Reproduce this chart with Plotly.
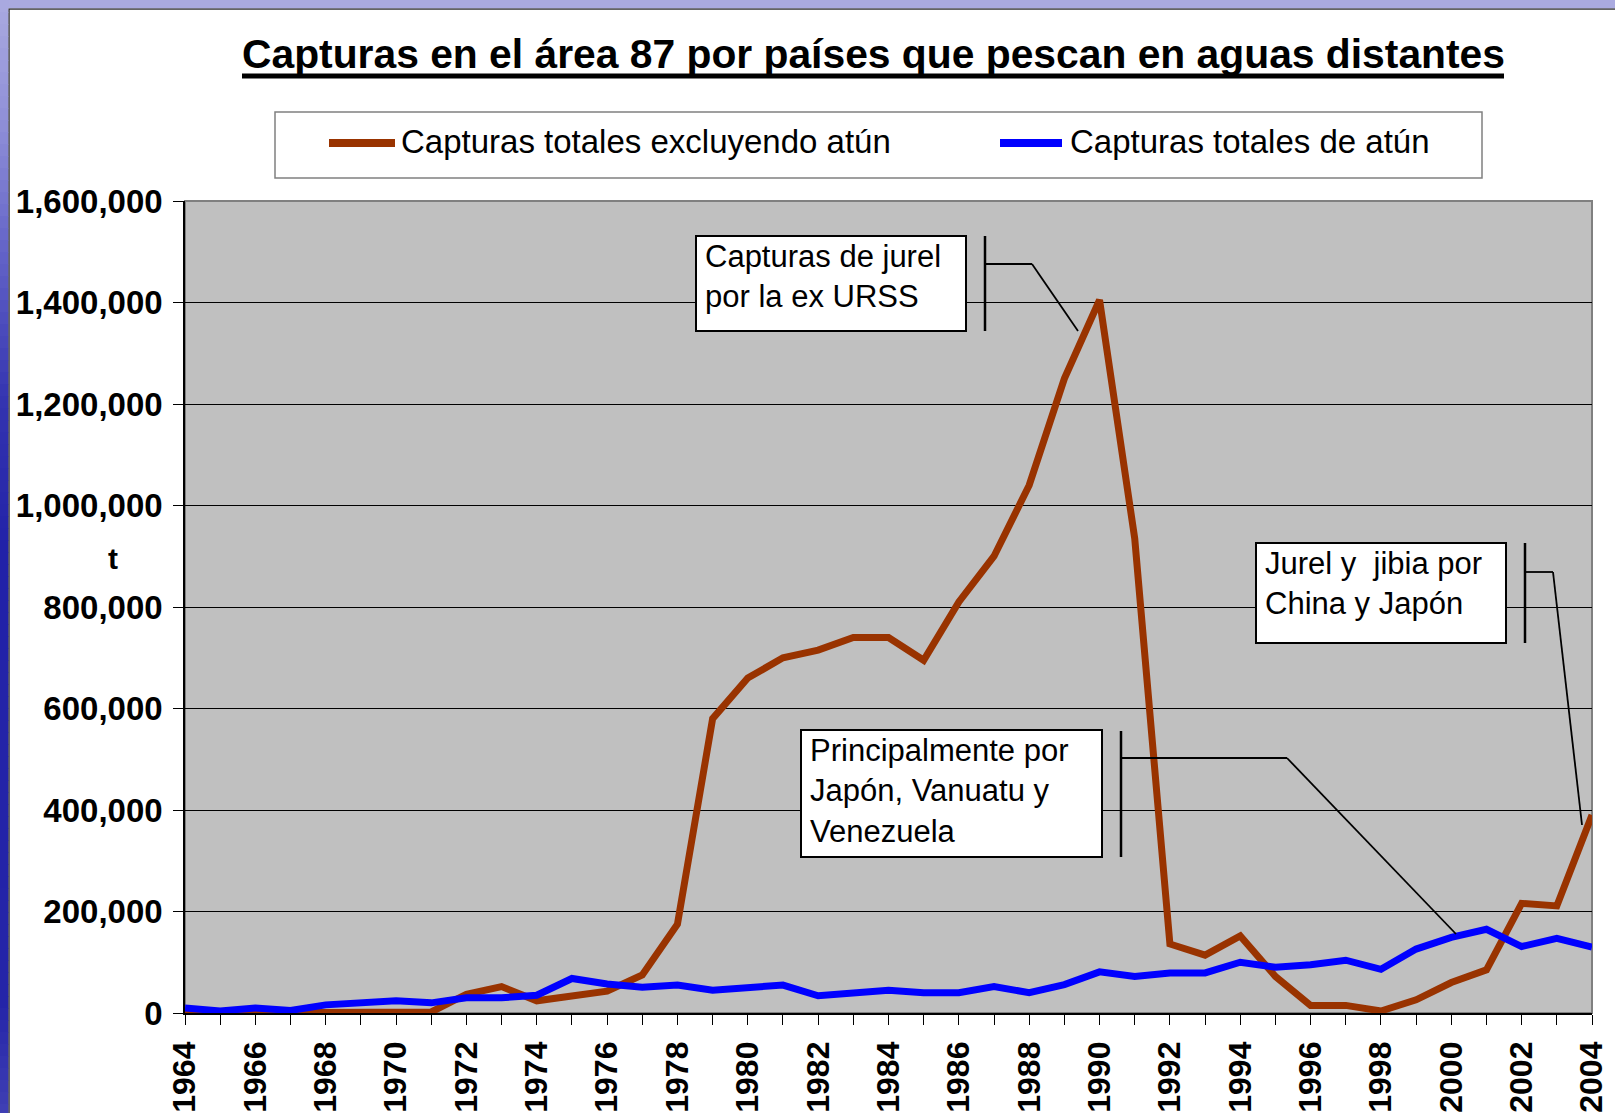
import plotly.graph_objects as go

# ---------------- data ----------------
years = [1964, 1965, 1966, 1967, 1968, 1969, 1970, 1971, 1972, 1973,
         1974, 1975, 1976, 1977, 1978, 1979, 1980, 1981, 1982, 1983,
         1984, 1985, 1986, 1987, 1988, 1989, 1990, 1991, 1992, 1993,
         1994, 1995, 1996, 1997, 1998, 1999, 2000, 2001, 2002, 2003, 2004]

catch_excl_tuna = [0, 0, 0, 0, 2000, 2000, 2000, 2000, 37000, 52000,
                   24000, 32000, 43000, 75000, 175000, 580000, 660000, 700000, 715000, 740000,
                   740000, 695000, 810000, 900000, 1040000, 1250000, 1405000, 935000, 136000, 114000,
                   152000, 72000, 15000, 15000, 4000, 26000, 60000, 85000, 216000, 211000, 390000]

catch_tuna = [10000, 4000, 10000, 5000, 16000, 19000, 24000, 20000, 30000, 30000,
              35000, 68000, 57000, 51000, 55000, 45000, 50000, 55000, 34000, 41000,
              45000, 40000, 40000, 52000, 40000, 56000, 81000, 72000, 79000, 79000,
              100000, 90000, 95000, 104000, 86000, 126000, 149000, 165000, 131000, 147000, 130000]

series_names = ["Capturas totales excluyendo atún", "Capturas totales de atún"]
series_colors = ["#993300", "#0000FF"]

title_text = "Capturas en el área 87 por países que pescan en aguas distantes"
y_title = "t"
y_tick_vals = [0, 200000, 400000, 600000, 800000, 1000000, 1200000, 1400000, 1600000]
x_tick_vals = years[::2]

callout_texts = [
    "Capturas de jurel<br>por la ex URSS",
    "Principalmente por<br>Japón, Vanuatu y<br>Venezuela",
    "Jurel y  jibia por<br>China y Japón",
]

# ---------------- layout helpers ----------------
W, H = 1615, 1113
L, R, T, B = 185, 1592, 201, 1013
FONT = "Arial, 'Liberation Sans', sans-serif"


def px(x):
    return (x - L) / (R - L)


def py(y):
    return (B - y) / (B - T)


def rect(x0, y0, x1, y1, fill=None, line_color=None, line_width=0, layer="above"):
    d = dict(type="rect", xref="paper", yref="paper",
             x0=px(x0), x1=px(x1), y0=py(y1), y1=py(y0), layer=layer,
             line=dict(width=line_width, color=line_color or "rgba(0,0,0,0)"))
    if fill:
        d["fillcolor"] = fill
    return d


def seg(x0, y0, x1, y1, color="#000", width=2, layer="above"):
    return dict(type="line", xref="paper", yref="paper",
                x0=px(x0), x1=px(x1), y0=py(y0), y1=py(y1), layer=layer,
                line=dict(color=color, width=width))


def hex2rgb(h):
    h = h.lstrip("#")
    return tuple(int(h[i:i + 2], 16) for i in (0, 2, 4))


shapes = []

# background frame: white area and blue border
shapes.append(rect(9, 9, W + 5, H + 5, fill="#FFFFFF", line_color="#333333", line_width=1.5, layer="below"))
shapes.append(rect(-5, -5, W + 5, 8.3, fill="#AAAAE0", layer="below"))
# left gradient strip
stops = [(0, "#AAAAE0"), (120, "#9090D8"), (250, "#6464C8"), (400, "#3434B0"),
         (550, "#2222A8"), (1000, "#2424A8"), (1113, "#4040B4")]
step = 12
yy = 0
while yy < H:
    ymid = yy + step / 2
    for (ya, ca), (yb, cb) in zip(stops[:-1], stops[1:]):
        if ya <= ymid <= yb:
            t = (ymid - ya) / (yb - ya)
            a, b = hex2rgb(ca), hex2rgb(cb)
            c = tuple(round(a[i] + (b[i] - a[i]) * t) for i in range(3))
            break
    shapes.append(rect(-5, yy, 8.3, yy + step + 1, fill="rgb(%d,%d,%d)" % c, layer="below"))
    yy += step

# plot area gray background + border (top / right gray)
shapes.append(rect(L, T, R, B, fill="#C0C0C0", layer="below"))
shapes.append(rect(L, T, R, B, line_color="#808080", line_width=2, layer="below"))

# title underline
shapes.append(seg(242, 76, 1504, 76, color="#000", width=5))

# legend box and line samples
shapes.append(rect(275, 112, 1482, 178, fill="#FFFFFF", line_color="#808080", line_width=1.5))
shapes.append(seg(329, 143, 395, 143, color=series_colors[0], width=8))
shapes.append(seg(1000, 143, 1062, 143, color=series_colors[1], width=8))

# callout boxes
boxes = [(696, 236, 966, 331), (801, 730, 1102, 857), (1256, 543, 1506, 643)]
for (x0, y0, x1, y1) in boxes:
    shapes.append(rect(x0, y0, x1, y1, fill="#FFFFFF", line_color="#000000", line_width=2))

# callout leader lines
bars = [(985, 236, 331), (1121, 731, 857), (1525, 543, 643)]
for (xb, y0, y1) in bars:
    shapes.append(seg(xb, y0, xb, y1, width=2.5))
leaders = [
    [(985, 264), (1032, 264), (1078, 331)],
    [(1121, 758), (1287, 758), (1456, 934)],
    [(1525, 572), (1553, 572), (1582, 825)],
]
for pts in leaders:
    for (xa, ya), (xb, yb) in zip(pts[:-1], pts[1:]):
        shapes.append(seg(xa, ya, xb, yb, width=1.8))

annotations = []
# title
annotations.append(dict(text="<b>" + title_text + "</b>", xref="paper", yref="paper",
                        x=px(873), y=py(54), xanchor="center", yanchor="middle", showarrow=False,
                        font=dict(family=FONT, size=40.8, color="#000")))
# legend texts
annotations.append(dict(text=series_names[0], xref="paper", yref="paper", x=px(399), y=py(141),
                        xanchor="left", yanchor="middle", showarrow=False,
                        font=dict(family=FONT, size=33, color="#000")))
annotations.append(dict(text=series_names[1], xref="paper", yref="paper", x=px(1068), y=py(141),
                        xanchor="left", yanchor="middle", showarrow=False,
                        font=dict(family=FONT, size=33, color="#000")))
# y axis title
annotations.append(dict(text="<b>" + y_title + "</b>", xref="paper", yref="paper", x=px(113), y=py(558),
                        xanchor="center", yanchor="middle", showarrow=False,
                        font=dict(family=FONT, size=30, color="#000")))
# callout texts
text_pos = [(703, 237), (808, 731), (1263, 544)]
for txt, (tx, ty) in zip(callout_texts, text_pos):
    annotations.append(dict(text=txt, xref="paper", yref="paper", x=px(tx), y=py(ty),
                            xanchor="left", yanchor="top", align="left", showarrow=False,
                            font=dict(family=FONT, size=31, color="#000")))

fig = go.Figure()
fig.add_trace(go.Scatter(x=years, y=catch_excl_tuna, mode="lines", name=series_names[0],
                         line=dict(color=series_colors[0], width=7)))
fig.add_trace(go.Scatter(x=years, y=catch_tuna, mode="lines", name=series_names[1],
                         line=dict(color=series_colors[1], width=7)))

fig.update_layout(
    width=W, height=H,
    margin=dict(l=L, r=W - R, t=T, b=H - B, pad=0),
    paper_bgcolor="#FFFFFF",
    plot_bgcolor="#C0C0C0",
    showlegend=False,
    font=dict(family=FONT, color="#000"),
    shapes=shapes,
    annotations=annotations,
    xaxis=dict(
        range=[years[0], years[-1]],
        tickmode="array", tickvals=x_tick_vals, ticktext=[str(v) for v in x_tick_vals],
        tickangle=-90, ticks="outside", ticklen=10, tickwidth=1, tickcolor="#000",
        tickfont=dict(family=FONT, size=32, color="#000", weight="bold"),
        minor=dict(tickmode="array", tickvals=years, ticks="outside", ticklen=10,
                   tickwidth=1, tickcolor="#000", showgrid=False),
        showgrid=False, zeroline=False,
        showline=True, linecolor="#000", linewidth=1.5,
        ticklabelstandoff=4,
        automargin=False, fixedrange=True,
    ),
    yaxis=dict(
        range=[0, 1600000],
        tickmode="array", tickvals=y_tick_vals,
        tickformat=",d",
        ticks="outside", ticklen=10, tickwidth=1, tickcolor="#000",
        tickfont=dict(family=FONT, size=33, color="#000", weight="bold"),
        showgrid=True, gridcolor="#000000", gridwidth=1,
        zeroline=False,
        showline=True, linecolor="#000", linewidth=1.5,
        ticklabelstandoff=4,
        automargin=False, fixedrange=True,
    ),
)

fig.write_html("out.html", config={"displayModeBar": False},
               post_script="document.body.style.margin='0';")
